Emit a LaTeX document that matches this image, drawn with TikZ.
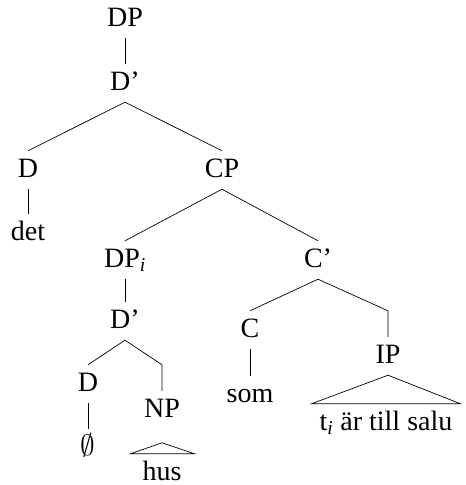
\documentclass[tikz,border=0pt]{standalone}
\usepackage{fontspec}
\usepackage{graphicx}
\setmainfont{Liberation Serif}
\usetikzlibrary{calc}
\tikzset{
  lbl/.style={anchor=base, inner sep=0pt, text height=26pt, text depth=12pt, font=\fontsize{28}{32}\selectfont},
  branch/.style={line width=0.7pt},
}
\newcommand{\subi}{\textsubscript{\textit{i}}}
\begin{document}
\begin{tikzpicture}[x=1pt,y=-1pt]
\useasboundingbox (0,0) rectangle (466,485);
\node[lbl] (dp) at (125,26) {DP};
\node[lbl] (dbar) at (125,90) {D'};
\node[lbl] (d) at (28,177) {D};
\node[lbl] (cp) at (222,177) {CP};
\node[lbl] (det) at (28,240) {det};
\node[lbl] (dpi) at (125,267) {DP\subi};
\node[lbl] (dbarb) at (125,328) {D'};
\node[lbl] (db) at (88,391) {D};
\node[lbl] (np) at (162,417) {NP};
\node[lbl] (empty) at (88,455) {\resizebox{!}{22pt}{$\emptyset$}};
\node[lbl] (hus) at (162,480) {hus};
\node[lbl] (cbar) at (318,267) {C'};
\node[lbl] (c) at (250,337) {C};
\node[lbl] (som) at (250,402) {som};
\node[lbl] (ip) at (388,363) {IP};
\node[lbl] (tis) at (386,430) {t\subi{} är till salu};
\begin{scope}[branch]
\draw (dp.south) -- (dbar.north);
\draw (dbar.south) -- (d.north);
\draw (dbar.south) -- (cp.north);
\draw (d.south) -- (det.north);
\draw (cp.south) -- (dpi.north);
\draw (cp.south) -- (cbar.north);
\draw (dpi.south) -- (dbarb.north);
\draw (dbarb.south) -- (db.north);
\draw (dbarb.south) -- (db.north -| np.north) -- (np.north);
\draw (db.south) -- (empty.north);
\draw (cbar.south) -- (c.north);
\draw (cbar.south) -- (c.north -| ip.north) -- (ip.north);
\draw (c.south) -- (som.north);
\coordinate (husapex) at ($(hus.north)+(0,-11)$);
\draw ($(hus.north west)+(-12,0)$) -- (husapex) -- ($(hus.north east)+(13,0)$) -- cycle;
\draw ($(tis.north west)+(-8,0)$) -- (ip.south) -- ($(tis.north east)+(8,0)$) -- cycle;
\end{scope}
\end{tikzpicture}
\end{document}
